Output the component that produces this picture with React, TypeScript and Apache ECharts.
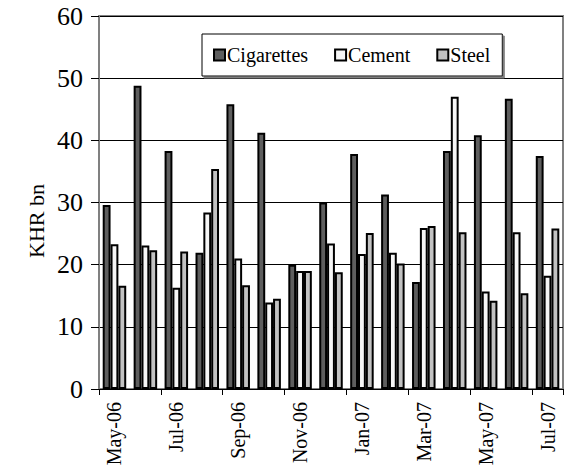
import React, { useEffect, useRef } from "react";
import * as echarts from "echarts";

const categories = [
  "May-06", "Jun-06", "Jul-06", "Aug-06", "Sep-06", "Oct-06", "Nov-06", "Dec-06",
  "Jan-07", "Feb-07", "Mar-07", "Apr-07", "May-07", "Jun-07", "Jul-07",
];
const cigarettes = [29.6, 48.8, 38.3, 21.9, 45.8, 41.2, 20.0, 30.0, 37.8, 31.3, 17.2, 38.3, 40.8, 46.7, 37.5];
const cement = [23.3, 23.1, 16.3, 28.4, 21.0, 13.9, 19.0, 23.4, 21.7, 21.9, 25.9, 47.0, 15.7, 25.2, 18.2];
const steel = [16.6, 22.3, 22.1, 35.4, 16.7, 14.5, 19.0, 18.8, 25.1, 20.2, 26.2, 25.2, 14.2, 15.4, 25.8];
const yTicks = { min: 0, max: 60, interval: 10 };

const FONT = "Liberation Serif";

export default function App() {
  const ref = useRef<HTMLDivElement>(null);
  useEffect(() => {
    if (!ref.current) return;
    const chart = echarts.init(ref.current, undefined, { renderer: "svg" });
    const mkSeries = (name: string, data: number[], color: string) => ({
      name,
      type: "bar",
      data,
      barGap: "0%",
      barCategoryGap: "24%",
      itemStyle: { color, borderColor: "#000", borderWidth: 2 },
    });
    chart.setOption({
      animation: false,
      backgroundColor: "#fff",
      textStyle: { fontFamily: FONT },
      grid: {
        left: 99,
        right: 6,
        top: 16,
        bottom: 81,
        show: true,
        borderColor: "#808080",
        borderWidth: 2,
        containLabel: false,
      },
      legend: {
        left: 202,
        top: 34,
        padding: [11, 12, 11, 11],
        itemWidth: 11,
        itemHeight: 11,
        itemGap: 26,
        icon: "rect",
        backgroundColor: "#fff",
        borderColor: "#000",
        borderWidth: 1,
        shadowColor: "#808080",
        shadowOffsetX: 2,
        shadowOffsetY: 2,
        shadowBlur: 0,
        textStyle: { fontFamily: FONT, fontSize: 20, color: "#000", padding: [0, 0, 0, -3] },
        data: ["Cigarettes", "Cement", "Steel"],
      },
      xAxis: {
        type: "category",
        data: categories,
        axisLine: { show: true, lineStyle: { color: "#000", width: 1 } },
        axisTick: { show: true, interval: 1, length: 6, lineStyle: { color: "#000" } },
        axisLabel: {
          interval: 1,
          rotate: 90,
          margin: 13,
          fontFamily: FONT,
          fontSize: 20,
          color: "#000",
        },
        splitLine: { show: false },
      },
      yAxis: {
        type: "value",
        min: yTicks.min,
        max: yTicks.max,
        interval: yTicks.interval,
        axisLine: { show: true, lineStyle: { color: "#808080", width: 2 } },
        axisTick: { show: true, length: 8, lineStyle: { color: "#000" } },
        axisLabel: {
          margin: 16,
          color: "#000",
          fontFamily: FONT,
          fontSize: 26,
          formatter: "{n|{value}}",
          rich: {
            n: { fontFamily: FONT, fontSize: 26, color: "#000" },
          },
        },
        splitLine: { show: true, lineStyle: { color: "#000", width: 1 } },
      },
      graphic: [
        {
          type: "text",
          x: 36,
          y: 221,
          rotation: Math.PI / 2,
          style: {
            text: "KHR bn",
            fontFamily: FONT,
            fontSize: 22,
            fill: "#000",
            textAlign: "center",
            textVerticalAlign: "middle",
          },
        },
      ],
      series: [
        mkSeries("Cigarettes", cigarettes, "#5e5e5e"),
        mkSeries("Cement", cement, "#f6f6f6"),
        mkSeries("Steel", steel, "#c2c2c2"),
      ],
    });
    return () => chart.dispose();
  }, []);
  return (
    <div
      ref={ref}
      style={{ position: "fixed", left: 0, top: 0, width: 569, height: 470 }}
    />
  );
}
